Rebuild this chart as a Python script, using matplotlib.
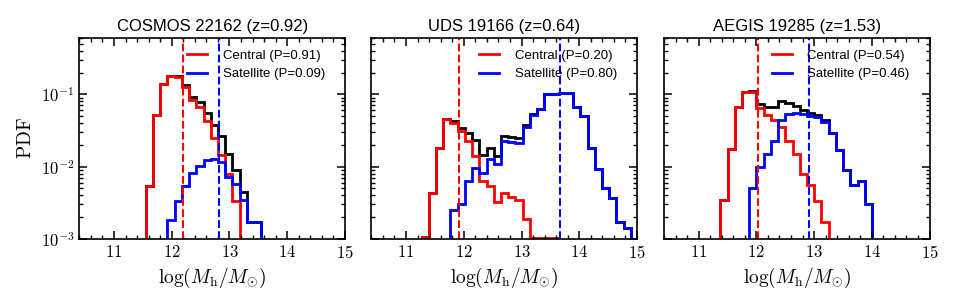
import numpy as np
import matplotlib
matplotlib.use('Agg')
import matplotlib.pyplot as plt
from matplotlib.ticker import MultipleLocator, FixedLocator, NullFormatter

plt.rcParams['mathtext.fontset'] = 'cm'
plt.rcParams['font.family'] = ['Liberation Sans', 'DejaVu Sans']

bin_width = 0.125

# COSMOS 22162 (z=0.92)
cosmos_start = 11.55
cosmos_central = [0.0054, 0.0519, 0.139, 0.178, 0.174, 0.127, 0.083, 0.0676,
                  0.0427, 0.0251, 0.0145, 0.0078, 0.0033, 0.0009, 0, 0]
cosmos_satellite = [0, 0, 0, 0.0018, 0.0033, 0.0054, 0.0081, 0.0102, 0.0124,
                    0.0126, 0.0117, 0.0072, 0.0058, 0.0035, 0.0017, 0.0017]
cosmos_lines = [12.20, 12.82]
cosmos_prob = [0.91, 0.09]

# UDS 19166 (z=0.64)
uds_start = 11.27
uds_central = [0.00107, 0.0043, 0.018, 0.0452, 0.0407, 0.0312, 0.0224, 0.0141,
               0.0063, 0.0054, 0.0032, 0.0043, 0.0038, 0.0035, 0.0019,
               0.00104, 0.00104, 0.00104, 0.00104,
               0, 0, 0, 0, 0, 0, 0, 0, 0, 0, 0]
uds_satellite = [0, 0, 0, 0, 0.0025, 0.0030, 0.0063, 0.0095, 0.0081, 0.0126,
                 0.011, 0.0224, 0.0219, 0.0214, 0.0357, 0.0519, 0.0617, 0.101,
                 0.101, 0.103, 0.103, 0.0675, 0.050, 0.018, 0.0093, 0.005,
                 0.0037, 0.0017, 0.0014, 0]
uds_lines = [11.92, 13.67]
uds_prob = [0.20, 0.80]

# AEGIS 19285 (z=1.53)
aegis_start = 11.377
aegis_central = [0.0035, 0.0174, 0.0676, 0.1067, 0.1067, 0.0646, 0.0519, 0.0442,
                 0.0357, 0.0224, 0.0148, 0.0078, 0.0056, 0.0033, 0.0017,
                 0, 0, 0, 0, 0, 0]
aegis_satellite = [0, 0, 0, 0, 0.005, 0.0098, 0.015, 0.0229, 0.0442, 0.0537,
                   0.055, 0.0537, 0.050, 0.049, 0.0419, 0.029, 0.0171, 0.009,
                   0.0056, 0.0063, 0.003]
aegis_lines = [12.03, 12.92]
aegis_prob = [0.54, 0.46]

panels = [
    ('COSMOS 22162 (z=0.92)', cosmos_start, cosmos_central, cosmos_satellite, cosmos_lines, cosmos_prob),
    ('UDS 19166 (z=0.64)', uds_start, uds_central, uds_satellite, uds_lines, uds_prob),
    ('AEGIS 19285 (z=1.53)', aegis_start, aegis_central, aegis_satellite, aegis_lines, aegis_prob),
]

fig = plt.figure(figsize=(9.54, 3.04), dpi=100)
lefts = [0.0832, 0.3893, 0.696]

for i, (title, start, cen, sat, lines, prob) in enumerate(panels):
    ax = fig.add_axes([lefts[i], 0.214, 0.2784, 0.661])
    cen = np.array(cen, dtype=float)
    sat = np.array(sat, dtype=float)
    tot = cen + sat  # black curve = sum of the two
    edges = start + bin_width * np.arange(len(cen) + 1)

    floor = 1e-6
    ax.stairs(np.where(tot > 0, tot, floor), edges, baseline=floor, color='k', lw=2.0)
    ax.stairs(np.where(cen > 0, cen, floor), edges, baseline=floor, color='r', lw=2.0,
              label='Central (P=%.2f)' % prob[0])
    ax.stairs(np.where(sat > 0, sat, floor), edges, baseline=floor, color='b', lw=2.0,
              label='Satellite (P=%.2f)' % prob[1])
    ax.axvline(lines[0], color='r', ls='--', lw=1.5)
    ax.axvline(lines[1], color='b', ls='--', lw=1.5)

    ax.set_yscale('log')
    ax.set_xlim(10.4, 15)
    ax.set_ylim(1e-3, 0.6)
    ax.xaxis.set_major_locator(FixedLocator([11, 12, 13, 14, 15]))
    ax.xaxis.set_minor_locator(MultipleLocator(0.2))
    ax.set_xticklabels([r'$%d$' % v for v in [11, 12, 13, 14, 15]])
    ax.tick_params(which='both', direction='in', top=True, right=True, labelsize=12)
    ax.tick_params(which='major', length=5.5, width=1.1)
    ax.tick_params(which='minor', length=3, width=1.0)
    for s in ax.spines.values():
        s.set_linewidth(1.2)
    ax.set_yticks([1e-3, 1e-2, 1e-1])
    if i == 0:
        ax.set_yticklabels([r'$10^{-3}$', r'$10^{-2}$', r'$10^{-1}$'])
        ax.set_ylabel(r'$\mathrm{PDF}$', fontsize=14)
    else:
        ax.yaxis.set_major_formatter(NullFormatter())
    ax.yaxis.set_minor_formatter(NullFormatter())
    ax.set_xlabel(r'$\log(M_{\rm h}/M_{\odot})$', fontsize=14)
    ax.set_title(title, fontsize=12, pad=5)
    ax.legend(loc='upper right', bbox_to_anchor=(0.97, 1.0), frameon=False,
              fontsize=9.5, handlelength=1.5, handletextpad=1.2, labelspacing=0.45)

fig.savefig('out.png', dpi=100)
